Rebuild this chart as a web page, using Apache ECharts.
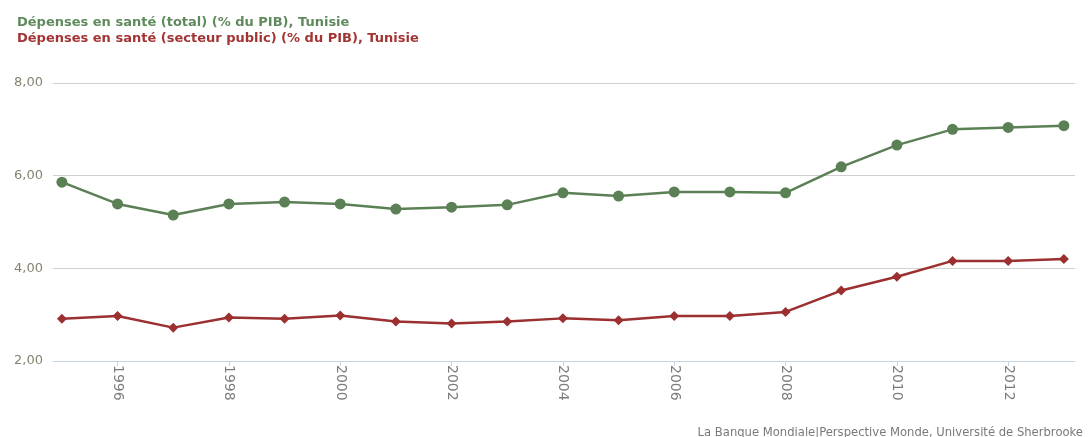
<!DOCTYPE html>
<html>
<head>
<meta charset="utf-8">
<script src="https://cdn.jsdelivr.net/npm/echarts@6/dist/echarts.min.js"></script>
<style>
  html, body { margin: 0; padding: 0; background: #fff; }
  #chart { width: 1089px; height: 437px; }
</style>
</head>
<body>
<div id="chart"></div>
<script>
// data
const years = [1995, 1996, 1997, 1998, 1999, 2000, 2001, 2002, 2003, 2004,
               2005, 2006, 2007, 2008, 2009, 2010, 2011, 2012, 2013]
const totalSpend = [5.86, 5.39, 5.15, 5.39, 5.43, 5.39, 5.28, 5.32, 5.37, 5.63,
                    5.56, 5.65, 5.65, 5.63, 6.19, 6.66, 7.00, 7.04, 7.08]
const publicSpend = [2.91, 2.97, 2.72, 2.94, 2.91, 2.98, 2.85, 2.81, 2.85, 2.92,
                     2.88, 2.97, 2.97, 3.06, 3.52, 3.82, 4.16, 4.16, 4.20]
const yearTicks = [1996, 1998, 2000, 2002, 2004, 2006, 2008, 2010, 2012]
const nameTotal = 'Dépenses en santé (total) (% du PIB), Tunisie'
const namePublic = 'Dépenses en santé (secteur public) (% du PIB), Tunisie'

const pairs = function (vals) {
    return years.map(function (y, i) { return [y, vals[i]] })
}

const font = 'DejaVu Sans, Verdana, sans-serif'

let chart = echarts.init(document.getElementById('chart'))
chart.setOption({
    animation: false,
    textStyle: { fontFamily: font },
    legend: {
        left: 12,
        top: 15,
        orient: 'vertical',
        icon: 'none',
        itemWidth: 0,
        itemHeight: 16,
        itemGap: 0,
        padding: 0,
        selectedMode: false,
        data: [
            { name: nameTotal, textStyle: { color: '#5f8a5c' } },
            { name: namePublic, textStyle: { color: '#a33434' } }
        ],
        textStyle: { fontSize: 13, fontWeight: 'bold', lineHeight: 16, fontFamily: font }
    },
    grid: {
        left: 53,
        right: 14,
        top: 83,
        bottom: 76
    },
    xAxis: {
        type: 'value',
        min: 1994.84,
        max: 2013.2,
        splitLine: { show: false },
        axisLine: { show: true, lineStyle: { color: '#c5d3e2', width: 1 } },
        axisTick: {
            show: true,
            length: 5,
            customValues: yearTicks,
            lineStyle: { color: '#c5d3e2' }
        },
        axisLabel: {
            rotate: -90,
            margin: 4,
            customValues: yearTicks,
            color: '#7c7c7c',
            fontSize: 14,
            fontFamily: font,
            padding: [0, 0, 6, 0],
            formatter: function (v) { return String(v) }
        }
    },
    yAxis: {
        type: 'value',
        min: 2,
        max: 8,
        interval: 2,
        axisLine: { show: false },
        axisTick: { show: false },
        splitLine: { lineStyle: { color: '#cfcfcf', width: 1 } },
        axisLabel: {
            margin: 10,
            color: '#85836f',
            fontSize: 13,
            fontFamily: font,
            formatter: function (v) { return v.toFixed(2).replace('.', ',') }
        }
    },
    series: [
        {
            name: nameTotal,
            type: 'line',
            data: pairs(totalSpend),
            symbol: 'circle',
            symbolSize: 11,
            lineStyle: { color: '#5b8055', width: 2.5 },
            itemStyle: { color: '#5b8055' }
        },
        {
            name: namePublic,
            type: 'line',
            data: pairs(publicSpend),
            symbol: 'diamond',
            symbolSize: 10,
            lineStyle: { color: '#9c2f2f', width: 2.5 },
            itemStyle: { color: '#9c2f2f' }
        }
    ],
    graphic: [
        {
            type: 'text',
            right: 6,
            bottom: -2,
            style: {
                text: 'La Banque Mondiale|Perspective Monde, Université de Sherbrooke',
                fill: '#7a7a7a',
                fontSize: 11.6,
                fontFamily: font
            }
        }
    ]
})
</script>
</body>
</html>
